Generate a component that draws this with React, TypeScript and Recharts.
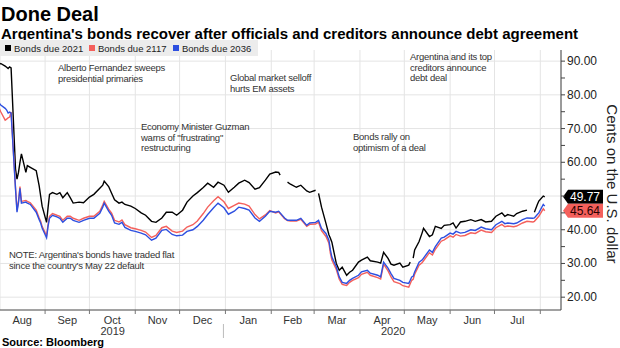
import React from "react";
import { LineChart, Line, XAxis, YAxis, CartesianGrid, ReferenceLine } from "recharts";

const dates = [
  "2019-08-01", "2019-08-02", "2019-08-05", "2019-08-06", "2019-08-07", "2019-08-08", "2019-08-09",
  "2019-08-12", "2019-08-13", "2019-08-14", "2019-08-15", "2019-08-16", "2019-08-19", "2019-08-20",
  "2019-08-22", "2019-08-26", "2019-08-28", "2019-08-29", "2019-08-30", "2019-09-02", "2019-09-03",
  "2019-09-04", "2019-09-06", "2019-09-09", "2019-09-11", "2019-09-13", "2019-09-16", "2019-09-18",
  "2019-09-20", "2019-09-24", "2019-09-27", "2019-10-01", "2019-10-04", "2019-10-08", "2019-10-10",
  "2019-10-11", "2019-10-14", "2019-10-16", "2019-10-18", "2019-10-21", "2019-10-23", "2019-10-25",
  "2019-10-29", "2019-11-01", "2019-11-05", "2019-11-08", "2019-11-12", "2019-11-15", "2019-11-19",
  "2019-11-22", "2019-11-26", "2019-11-29", "2019-12-03", "2019-12-06", "2019-12-10", "2019-12-13",
  "2019-12-17", "2019-12-20", "2019-12-24", "2019-12-27", "2019-12-31", "2020-01-03", "2020-01-07",
  "2020-01-10", "2020-01-14", "2020-01-17", "2020-01-21", "2020-01-24", "2020-01-28", "2020-01-31",
  "2020-02-04", "2020-02-06", "2020-02-07", "2020-02-10", "2020-02-12", "2020-02-14", "2020-02-18",
  "2020-02-21", "2020-02-25", "2020-02-27", "2020-03-02", "2020-03-03", "2020-03-04", "2020-03-06",
  "2020-03-09", "2020-03-11", "2020-03-12", "2020-03-13", "2020-03-16", "2020-03-18", "2020-03-20",
  "2020-03-23", "2020-03-25", "2020-03-27", "2020-03-31", "2020-04-02", "2020-04-06", "2020-04-08",
  "2020-04-13", "2020-04-15", "2020-04-17", "2020-04-20", "2020-04-22", "2020-04-24", "2020-04-28",
  "2020-04-30", "2020-05-04", "2020-05-05", "2020-05-06", "2020-05-07", "2020-05-08", "2020-05-11",
  "2020-05-13", "2020-05-14", "2020-05-18", "2020-05-20", "2020-05-22", "2020-05-26", "2020-05-28",
  "2020-06-01", "2020-06-03", "2020-06-05", "2020-06-08", "2020-06-11", "2020-06-15", "2020-06-18",
  "2020-06-22", "2020-06-25", "2020-06-29", "2020-07-02", "2020-07-06", "2020-07-08", "2020-07-10",
  "2020-07-14", "2020-07-16", "2020-07-20", "2020-07-23", "2020-07-27", "2020-07-28", "2020-07-30",
  "2020-07-31", "2020-08-03", "2020-08-04",
];

const bonds2021 = [
  89.0, 89.3, 88.5, 88.2, 87.8, 88.3, 88.0,
  58.0, 55.0, 57.0, 60.0, 62.5, 57.0, 59.0,
  58.5, 57.5, 53.0, 50.0, 47.0, 42.2, 46.5,
  50.5, 51.0, 50.5, 51.0, 49.5, 51.0, 49.5,
  47.9, 48.2, 48.0, 49.7, 50.5, 52.3, 53.2,
  54.4, 52.8, 50.8, 48.9, 47.9, 48.2, 47.5,
  47.0, 46.3, 45.0, 44.3, 42.5, 42.2, 43.5,
  45.2, 45.2, 44.3, 45.8, 48.2, 50.0, 51.0,
  52.5, 53.8, 52.6, 54.1, 53.2, 51.1, 52.6,
  53.8, 54.7, 54.0, 52.0, 52.5, 54.7, 56.5,
  57.1, 57.0, 56.2, null, 54.1, 53.5, 52.6,
  53.2, 51.5, 51.1, 51.7, null, 50.8, 46.7,
  41.9, 38.5, 37.5, 36.3, 30.0, 28.0, 28.9,
  26.5, 27.4, 28.0, 30.4, 31.0, 31.9, 30.8,
  30.4, 30.1, 33.3, 31.5, 29.8, 29.5, 30.1,
  28.9, 29.5, 30.4, null, 31.6, 34.0, 36.5,
  39.0, 40.4, 38.0, 38.5, 41.0, 40.4, 41.3,
  41.5, 42.0, 40.5, 42.3, 42.5, 43.0, 42.5,
  43.0, 42.3, 42.5, 44.0, 45.0, 44.0, 44.5,
  44.0, 44.8, 45.5, 45.8, null, 45.2, 47.5,
  48.5, 50.0, 49.77,
];

const bonds2117 = [
  76.0, 75.0, 72.5, 72.8, 73.2, 73.4, 74.9,
  52.5, 45.8, 48.5, 52.8, 48.4, 48.7, 48.4,
  48.0, 45.8, 43.5, 42.5, 41.0, 38.2, 41.5,
  44.0, 44.8, 44.3, 44.0, 42.8, 44.0, 44.0,
  43.4, 42.8, 43.4, 44.0, 44.0, 45.5, 47.3,
  48.4, 46.1, 44.9, 42.8, 42.3, 42.9, 41.5,
  40.6, 40.3, 39.8, 39.3, 37.7, 38.3, 40.6,
  41.0, 39.6, 39.2, 39.6, 40.8, 41.5, 42.6,
  44.8, 46.7, 48.6, 49.8, 48.3, 46.3, 47.2,
  47.9, 47.6, 47.0, 44.5, 43.2, 44.4, 45.7,
  45.0, 45.3, 44.8, 43.3, 42.7, 42.6, 42.6,
  43.1, 41.0, 41.6, 41.7, 42.0, 42.2, 39.7,
  38.0, 36.0, 33.0, 31.0, 28.2, 25.3, 23.8,
  23.5, 24.4, 25.0, 25.8, 26.8, 27.4, 26.5,
  25.8, 25.4, 29.8, 27.8, 26.0, 24.6, 24.0,
  23.4, 23.0, 24.0, 25.0, 25.3, 26.8, 29.5,
  30.2, 30.8, 33.2, 32.5, 34.2, 36.6, 37.0,
  38.2, 37.8, 38.6, 38.1, 38.3, 39.1, 38.9,
  39.9, 39.4, 39.2, 40.6, 41.6, 40.9, 41.1,
  40.9, 41.1, 42.0, 42.5, 42.3, 42.5, 43.5,
  44.0, 46.2, 45.64,
];

const bonds2036 = [
  77.5, 77.0, 76.0, 75.5, 74.6, 74.9, 74.6,
  52.0, 45.2, 48.0, 52.3, 47.9, 48.2, 47.9,
  47.5, 45.2, 43.0, 42.0, 40.5, 37.6, 41.0,
  43.4, 44.3, 43.8, 43.4, 42.2, 43.4, 43.4,
  42.8, 42.2, 42.8, 43.4, 43.4, 44.9, 46.7,
  47.9, 45.5, 44.3, 42.0, 41.6, 42.2, 40.7,
  39.8, 39.5, 39.0, 38.5, 36.9, 37.5, 39.8,
  40.1, 38.6, 38.2, 38.4, 39.5, 40.0, 41.0,
  42.8, 44.5, 46.5, 47.9, 46.5, 44.6, 45.5,
  46.7, 46.3, 45.8, 43.5, 42.5, 44.0, 45.5,
  45.2, 45.5, 45.0, 43.5, 42.8, 42.8, 42.8,
  43.4, 41.3, 42.0, 42.2, 42.5, 42.8, 40.4,
  38.9, 36.9, 34.0, 31.9, 29.0, 26.0, 24.4,
  24.1, 25.0, 25.6, 26.5, 27.5, 28.0, 27.1,
  26.5, 26.0, 30.4, 28.6, 27.0, 25.6, 25.0,
  24.4, 24.1, 25.0, 26.0, 26.2, 27.5, 30.4,
  31.0, 31.6, 34.0, 33.3, 35.0, 37.5, 37.8,
  39.0, 38.7, 39.5, 39.0, 39.2, 40.0, 39.8,
  40.8, 40.3, 40.0, 41.5, 42.5, 41.8, 42.0,
  41.8, 42.0, 43.0, 43.5, 43.4, 43.5, 44.5,
  45.0, 47.5, 47.0,
];

const seriesNames = ["Bonds due 2021", "Bonds due 2117", "Bonds due 2036"];
const seriesColors = ["#000000", "#f4605c", "#2d4fe0"];
const yTicks = [20, 25, 30, 35, 40, 45, 50, 55, 60, 65, 70, 75, 80, 85, 90];
const yGrid = [20, 30, 40, 50, 60, 70, 80, 90];
const monthNames = ["Jan", "Feb", "Mar", "Apr", "May", "Jun", "Jul", "Aug", "Sep", "Oct", "Nov", "Dec"];

const DAY = 86400000;
const T0 = Date.UTC(2019, 7, 1, 12);
const T1 = Date.UTC(2020, 7, 15);
const monthTicks: number[] = [];
for (let i = 0; i <= 12; i++) monthTicks.push(Date.UTC(2019, 7 + i, 1));

const W = 620;
const H = 348;
const Y_AXIS_W = 59;
const PLOT_LEFT = 0;
const PLOT_RIGHT = W - Y_AXIS_W;
const PX_PER_DAY = (PLOT_RIGHT - PLOT_LEFT) / ((T1 - T0) / DAY);

const rows = dates.map((d, i) => ({
  t: Date.parse(d),
  b2021: bonds2021[i],
  b2117: bonds2117[i],
  b2036: bonds2036[i],
}));

const lastIdx = dates.length - 1;
const tagValues = [bonds2021[lastIdx] as number, bonds2117[lastIdx]];

const FONT = "'Liberation Sans', Arial, sans-serif";

function MonthTick(props: any) {
  const { x, y, payload } = props;
  const t = payload.value as number;
  const d = new Date(t);
  const m = d.getUTCMonth();
  const yr = d.getUTCFullYear();
  const days = (Date.UTC(yr, m + 1, 1) - t) / DAY;
  const cx = x + (days / 2) * PX_PER_DAY;
  const isJan = m === 0;
  return (
    <g>
      {cx < PLOT_RIGHT && (
        <text x={cx} y={y + 8} textAnchor="middle" fontSize={11} fill="#333" fontFamily={FONT}>
          {monthNames[m]}
        </text>
      )}
      {isJan && (
        <>
          <line x1={x - 2} x2={x - 2} y1={y + 8} y2={y + 22} stroke="#bbb" />
          <text x={(PLOT_LEFT + x) / 2} y={y + 19} textAnchor="middle" fontSize={11} fill="#333" fontFamily={FONT}>
            {yr - 1}
          </text>
          <text x={(x + PLOT_RIGHT) / 2} y={y + 19} textAnchor="middle" fontSize={11} fill="#333" fontFamily={FONT}>
            {yr}
          </text>
        </>
      )}
    </g>
  );
}

// labels only on the tens, and not where a value tag sits on top
function ValueTick(props: any) {
  const { x, y, payload } = props;
  const v = payload.value as number;
  if (v % 10 !== 0) return <g />;
  if (tagValues.some((t) => Math.abs(t - v) < 2)) return <g />;
  return (
    <text x={x} y={y + 4} fontSize={12} fill="#222" fontFamily={FONT}>
      {v.toFixed(2)}
    </text>
  );
}

function makeTag(text: string, fill: string, color: string) {
  return (props: any) => {
    const { viewBox } = props;
    const left = viewBox.x + viewBox.width + 2;
    const y = viewBox.y;
    const h = 7;
    return (
      <g>
        <path
          d={`M${left} ${y} L${left + 5} ${y - h} L${left + 40} ${y - h} L${left + 40} ${y + h} L${left + 5} ${y + h} Z`}
          fill={fill}
        />
        <text x={left + 22} y={y + 4.5} textAnchor="middle" fontSize={12} fill={color} fontFamily={FONT}>
          {text}
        </text>
      </g>
    );
  };
}

const notes: { lines: string[]; x: number; y: number }[] = [
  { lines: ["Alberto Fernandez sweeps", "presidential primaries"], x: 58, y: 63 },
  { lines: ["Global market selloff", "hurts EM assets"], x: 230, y: 73 },
  { lines: ["Argentina and its top", "creditors announce", "debt deal"], x: 410, y: 52 },
  { lines: ["Economy Minister Guzman", "warns of \"frustrating\"", "restructuring"], x: 141, y: 122 },
  { lines: ["Bonds rally on", "optimism of a deal"], x: 353, y: 132 },
  { lines: ["NOTE: Argentina's bonds have traded flat", "since the country's May 22 default"], x: 9, y: 250 },
];

const legendLeft = [5, 89, 173];

export default function App() {
  return (
    <div
      style={{
        position: "absolute",
        left: 0,
        top: 0,
        width: W,
        height: H,
        background: "#fff",
        overflow: "hidden",
        fontFamily: FONT,
      }}
    >
      <LineChart width={W} height={H} data={rows} margin={{ top: 50, right: 0, bottom: 0, left: 0 }}>
        <CartesianGrid stroke="#e4e4e4" horizontalValues={yGrid} />
        <XAxis
          dataKey="t"
          type="number"
          domain={[T0, T1]}
          allowDataOverflow
          ticks={monthTicks}
          interval={0}
          tick={<MonthTick />}
          tickSize={4}
          tickLine={{ stroke: "#777" }}
          axisLine={{ stroke: "#444" }}
          height={38}
        />
        <YAxis
          orientation="right"
          width={Y_AXIS_W}
          domain={[16.2, 93.3]}
          allowDataOverflow
          ticks={yTicks}
          interval={0}
          tick={<ValueTick />}
          tickSize={4}
          tickLine={{ stroke: "#444" }}
          axisLine={{ stroke: "#444" }}
        />
        <Line dataKey="b2021" stroke={seriesColors[0]} strokeWidth={1.4} dot={false} isAnimationActive={false} />
        <Line dataKey="b2117" stroke={seriesColors[1]} strokeWidth={1.4} dot={false} isAnimationActive={false} />
        <Line dataKey="b2036" stroke={seriesColors[2]} strokeWidth={1.4} dot={false} isAnimationActive={false} />
        <ReferenceLine
          y={tagValues[0]}
          stroke="none"
          ifOverflow="visible"
          label={makeTag(tagValues[0].toFixed(2), "#000", "#fff")}
        />
        <ReferenceLine
          y={tagValues[1]}
          stroke="none"
          ifOverflow="visible"
          label={makeTag(tagValues[1].toFixed(2), "#f4605c", "#2a0000")}
        />
      </LineChart>

      <div style={{ position: "absolute", left: 1, top: 3, fontSize: 20, fontWeight: "bold", color: "#000" }}>
        Done Deal
      </div>
      <div style={{ position: "absolute", left: 1, top: 25, fontSize: 15, fontWeight: "bold", color: "#000", whiteSpace: "nowrap" }}>
        Argentina's bonds recover after officials and creditors announce debt agreement
      </div>

      <div style={{ position: "absolute", left: 0, top: 40, width: 258, height: 16, background: "#ececec" }}>
        {seriesNames.map((n, i) => (
          <div
            key={n}
            style={{
              position: "absolute",
              left: legendLeft[i],
              top: 0,
              height: 16,
              display: "flex",
              alignItems: "center",
              whiteSpace: "nowrap",
              fontSize: 9.5,
              color: "#222",
            }}
          >
            <span style={{ display: "inline-block", width: 6, height: 6, background: seriesColors[i], marginRight: 3 }} />
            <span>{n}</span>
          </div>
        ))}
      </div>

      {notes.map((n) => (
        <div
          key={n.lines[0]}
          style={{
            position: "absolute",
            left: n.x,
            top: n.y,
            fontSize: 9.5,
            lineHeight: "10.5px",
            letterSpacing: -0.25,
            color: "#333",
            whiteSpace: "nowrap",
          }}
        >
          {n.lines.map((l) => (
            <div key={l}>{l}</div>
          ))}
        </div>
      ))}

      <div
        style={{
          position: "absolute",
          left: 612,
          top: 184,
          transform: "translate(-50%, -50%) rotate(90deg)",
          fontSize: 15,
          lineHeight: "15px",
          color: "#222",
          whiteSpace: "nowrap",
        }}
      >
        Cents on the U.S. dollar
      </div>

      <div style={{ position: "absolute", left: 2, top: 336, fontSize: 11, fontWeight: "bold", color: "#000" }}>
        Source: Bloomberg
      </div>
    </div>
  );
}
